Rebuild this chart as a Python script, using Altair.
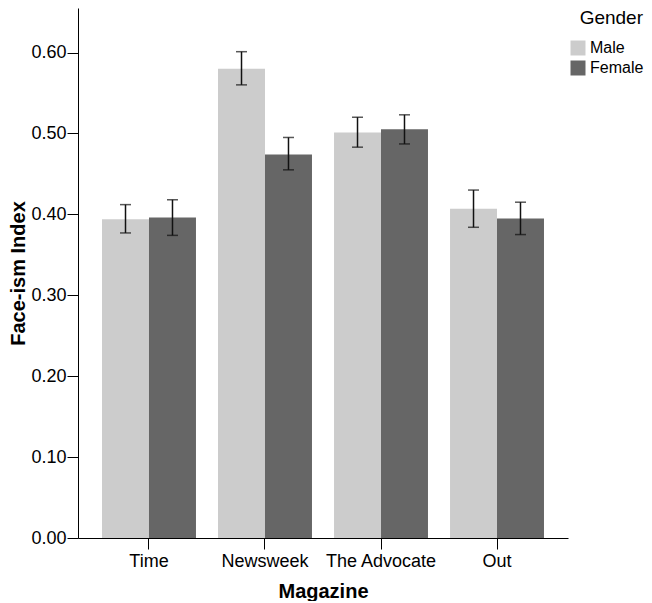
import altair as alt
import pandas as pd

magazines = ["Time", "Newsweek", "The Advocate", "Out"]
genders = ["Male", "Female"]
male_mean = [0.394, 0.580, 0.501, 0.407]
female_mean = [0.396, 0.474, 0.505, 0.395]
male_lo = [0.377, 0.560, 0.483, 0.384]
male_hi = [0.412, 0.601, 0.520, 0.430]
female_lo = [0.374, 0.455, 0.487, 0.375]
female_hi = [0.418, 0.495, 0.523, 0.415]

rows = []
for i, m in enumerate(magazines):
    rows.append(dict(Magazine=m, Gender="Male", mean=male_mean[i], lo=male_lo[i], hi=male_hi[i]))
    rows.append(dict(Magazine=m, Gender="Female", mean=female_mean[i], lo=female_lo[i], hi=female_hi[i]))
df = pd.DataFrame(rows)

FONT = "Liberation Sans"

x = alt.X("Magazine:N", sort=magazines, title="Magazine",
          scale=alt.Scale(paddingInner=0.19, paddingOuter=0.207),
          axis=alt.Axis(labelAngle=0, labelFontSize=18, titleFontSize=20, titleFontWeight="bold",
                        tickSize=11, labelPadding=3, titlePadding=11, domainColor="#000",
                        tickColor="#000", labelColor="#000", titleColor="#000", labelFont=FONT, titleFont=FONT))
xo = alt.XOffset("Gender:N", sort=genders, scale=alt.Scale(domain=genders, paddingInner=0, paddingOuter=0))

bars = alt.Chart(df).mark_bar(stroke=None).encode(
    x=x,
    xOffset=xo,
    y=alt.Y("mean:Q", title="Face-ism Index",
            scale=alt.Scale(domain=[0, 0.655], nice=False),
            axis=alt.Axis(values=[0, 0.1, 0.2, 0.3, 0.4, 0.5, 0.6], format=".2f", grid=False,
                          labelFontSize=18, titleFontSize=20, titleFontWeight="bold", tickSize=11,
                          labelPadding=1, titlePadding=2, domainColor="#000", tickColor="#000",
                          labelColor="#000", titleColor="#000", labelFont=FONT, titleFont=FONT)),
    color=alt.Color("Gender:N", sort=genders,
                    scale=alt.Scale(domain=genders, range=["#cccccc", "#666666"]),
                    legend=alt.Legend(title="Gender", orient="none", legendX=492, legendY=1,
                                      symbolType="square", symbolSize=225, symbolStrokeWidth=0,
                                      symbolOpacity=1, titleFontSize=19, titleFontWeight="normal",
                                      labelFontSize=16, titleFont=FONT, labelFont=FONT,
                                      titleColor="#000", labelColor="#000", titleAnchor="end",
                                      titlePadding=12, rowPadding=4, labelOffset=4)),
)

rules = alt.Chart(df).mark_rule(color="#111", strokeWidth=1.5).encode(
    x=alt.X("Magazine:N", sort=magazines), xOffset=xo,
    y="lo:Q", y2="hi:Q")
cap_lo = alt.Chart(df).mark_tick(color="#111", thickness=1.5, size=11).encode(
    x=alt.X("Magazine:N", sort=magazines), xOffset=xo, y="lo:Q")
cap_hi = alt.Chart(df).mark_tick(color="#111", thickness=1.5, size=11).encode(
    x=alt.X("Magazine:N", sort=magazines), xOffset=xo, y="hi:Q")

chart = alt.layer(bars, rules, cap_lo, cap_hi).properties(
    width=490, height=530,
    padding={"left": 0, "top": 0, "right": 0, "bottom": 0},
).configure(font=FONT, view=alt.ViewConfig(stroke=None))

chart.save("out.html", embed_options={"renderer": "svg", "actions": False})
